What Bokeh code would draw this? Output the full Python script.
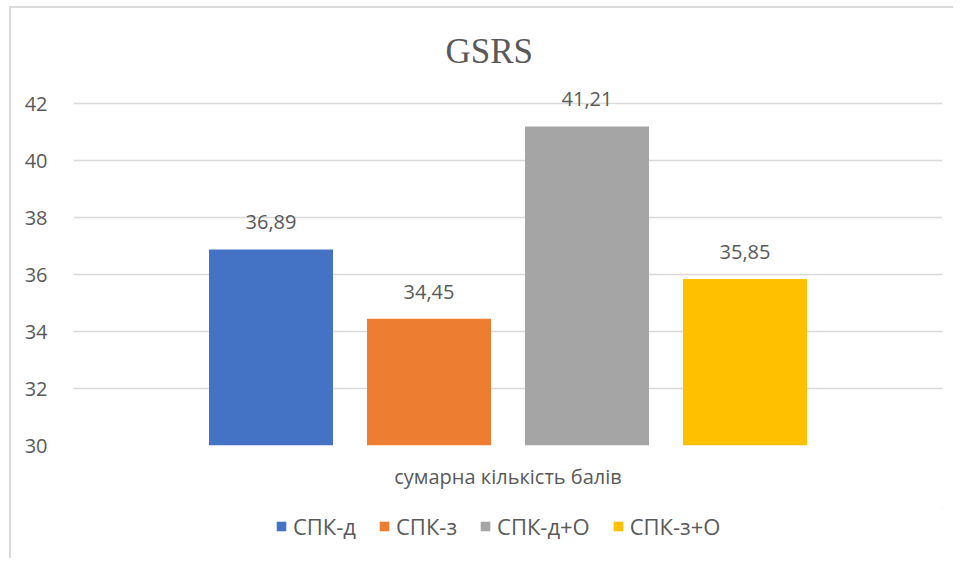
from bokeh.plotting import figure
from bokeh.layouts import column
from bokeh.models import FactorRange, Range1d, ColumnDataSource, FixedTicker, Legend, LegendItem
from bokeh.transform import dodge
from bokeh.core.properties import value
from bokeh.embed import file_html
from bokeh.resources import INLINE

# ---- data ----
category = "сумарна кількість балів"
series = ["СПК-д", "СПК-з", "СПК-д+О", "СПК-з+О"]
values = [36.89, 34.45, 41.21, 35.85]
labels = ["36,89", "34,45", "41,21", "35,85"]
y_ticks = [30, 32, 34, 36, 38, 40, 42]
colors = ["#4472C4", "#ED7D31", "#A5A5A5", "#FFC000"]

FONT = "Open Sans"
TXT = "#595959"
FS = "20px"

p = figure(width=942, height=500,
           x_range=FactorRange(factors=[category], range_padding=0),
           y_range=Range1d(30, 43),
           output_backend="svg", toolbar_location=None,
           min_border_left=62, min_border_right=11,
           min_border_top=67, min_border_bottom=63)

p.outline_line_color = None
p.background_fill_color = "white"
p.border_fill_color = "white"

# title
p.title.text = "GSRS"
p.title.text_font = "Liberation Serif"
p.title.text_font_size = "35px"
p.title.text_font_style = "normal"
p.title.text_color = TXT
p.title.align = "left"
p.title.offset = 372

# grid
p.xgrid.grid_line_color = None
p.ygrid.grid_line_color = "#d9d9d9"
p.ygrid.grid_line_width = 1.5

# y axis
p.yaxis.ticker = FixedTicker(ticks=y_ticks)
p.yaxis.axis_line_color = None
p.yaxis.major_tick_line_color = None
p.yaxis.minor_tick_line_color = None
p.yaxis.major_label_text_font = FONT
p.yaxis.major_label_text_font_size = FS
p.yaxis.major_label_text_color = TXT
p.yaxis.major_label_standoff = 20

# x axis
p.xaxis.axis_line_color = None
p.xaxis.major_tick_line_color = None
p.xaxis.minor_tick_line_color = None
p.xaxis.major_label_text_font = FONT
p.xaxis.major_label_text_font_size = FS
p.xaxis.major_label_text_color = TXT
p.xaxis.major_label_standoff = 11

frame_w = 869.0
step = 158.0 / frame_w
bar_w = 124.0 / frame_w

# legend strip (separate small figure below the chart)
lg = figure(width=942, height=50, x_range=Range1d(0, 1), y_range=Range1d(0, 1),
            output_backend="svg", toolbar_location=None,
            x_axis_type=None, y_axis_type=None,
            min_border_left=0, min_border_right=0, min_border_top=0, min_border_bottom=0)
lg.outline_line_color = None
lg.xgrid.visible = False
lg.ygrid.visible = False
lg.border_fill_color = "white"

items = []
for i, (s, v, lab, c) in enumerate(zip(series, values, labels, colors)):
    src = ColumnDataSource(dict(x=[category], top=[v], lab=[lab]))
    off = (i - 1.5) * step
    p.vbar(x=dodge("x", off, range=p.x_range), top="top", bottom=30,
           width=bar_w, source=src, fill_color=c, line_color=None)
    p.text(x=dodge("x", off, range=p.x_range), y="top", text="lab", source=src,
           text_font=value(FONT), text_font_size=FS, text_color=TXT,
           text_align="center", text_baseline="middle", y_offset=-27)
    # swatch renderer for the legend strip (its bar lies outside the strip's visible range)
    lr = lg.vbar(x=[5], top=[5], bottom=4, width=0.1, fill_color=c, line_color=None)
    items.append(LegendItem(label=s, renderers=[lr]))

legend = Legend(items=items, orientation="horizontal", location=(202, 17),
                label_text_font=FONT, label_text_font_size="22px",
                label_text_color=TXT, glyph_width=12, glyph_height=12,
                label_standoff=6, spacing=22, padding=0, margin=0,
                border_line_color=None, background_fill_alpha=0)
lg.add_layout(legend, "center")

layout = column(p, lg, spacing=0)
layout.styles = {"margin-left": "9px", "margin-top": "6px",
                 "border-left": "2px solid #d9d9d9", "border-top": "2px solid #d9d9d9"}
open("out.html", "w").write(file_html(layout, INLINE))
